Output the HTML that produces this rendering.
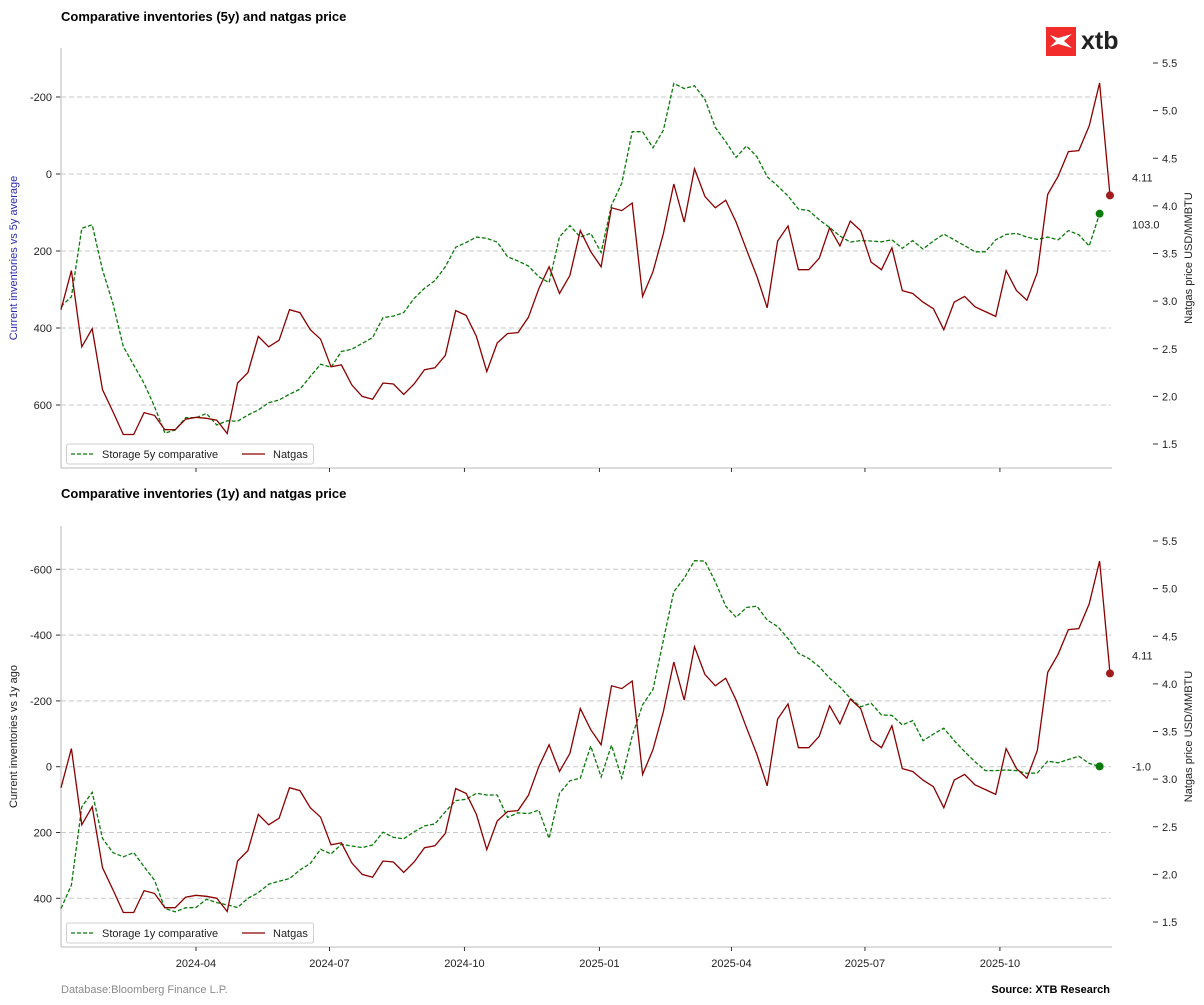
<!DOCTYPE html>
<html><head><meta charset="utf-8">
<style>
html,body{margin:0;padding:0;background:#fff;}
svg{display:block;font-family:"Liberation Sans",Arial,sans-serif;}
</style></head>
<body>
<svg id="chart" width="1204" height="1005" viewBox="0 0 1204 1005" xmlns="http://www.w3.org/2000/svg">
  <rect x="0" y="0" width="1204" height="1005" fill="#fff"/>
  <text x="61" y="21" font-size="13" font-weight="bold" fill="#000">Comparative inventories (5y) and natgas price</text>
  <text x="61" y="498" font-size="13" font-weight="bold" fill="#000">Comparative inventories (1y) and natgas price</text>
  <g>
    <rect x="1046" y="27" width="30" height="29" fill="#f22b2b"/>
    <path d="M1050 35 L1058 38 L1072 34 L1064 41 L1072 48 L1058 44 L1050 47 L1056 41 Z" fill="#fff"/>
    <text x="1081" y="49" font-size="25" font-weight="bold" fill="#222">xtb</text>
  </g>
  <g id="top"></g>
  <g id="bottom"></g>
  <text x="61" y="993" font-size="11" fill="#8a8a8a">Database:Bloomberg Finance L.P.</text>
  <text x="1110" y="993" font-size="11" font-weight="bold" fill="#000" text-anchor="end">Source: XTB Research</text>
</svg>
<script>
const natgas = [2.91,3.32,2.52,2.71,2.07,1.84,1.60,1.60,1.83,1.80,1.65,1.65,1.76,1.78,1.77,1.75,1.61,2.14,2.25,2.63,2.52,2.59,2.91,2.88,2.70,2.60,2.31,2.33,2.12,2.00,1.97,2.14,2.13,2.02,2.13,2.28,2.30,2.43,2.90,2.85,2.63,2.26,2.56,2.66,2.67,2.83,3.13,3.36,3.08,3.27,3.74,3.52,3.36,3.98,3.95,4.03,3.05,3.31,3.71,4.23,3.83,4.39,4.10,3.98,4.06,3.83,3.54,3.26,2.93,3.63,3.79,3.33,3.33,3.45,3.77,3.58,3.84,3.74,3.41,3.33,3.56,3.11,3.08,2.99,2.92,2.70,2.99,3.05,2.94,2.89,2.84,3.32,3.11,3.01,3.30,4.12,4.31,4.57,4.58,4.84,5.29,4.11];
const storage5y = [344,319,141,132,249,336,448,496,544,604,673,665,633,633,622,652,641,642,626,613,594,587,572,559,526,494,502,461,455,440,425,373,369,360,323,297,277,241,190,178,164,167,177,215,226,239,267,282,163,134,164,154,204,81,24,-110,-110,-68,-114,-235,-222,-229,-194,-121,-84,-43,-73,-45,7,31,57,91,95,119,139,161,177,173,174,176,171,193,173,195,174,156,171,186,202,202,171,157,154,164,170,164,171,147,158,187,103];
const storage1y = [431,360,122,78,218,261,274,261,304,345,431,441,429,428,403,413,420,428,400,383,357,348,340,314,294,251,265,236,241,246,238,199,215,219,198,180,174,137,103,99,81,86,86,154,140,143,132,218,81,43,35,-63,31,-65,35,-93,-188,-235,-385,-532,-573,-626,-625,-562,-488,-454,-484,-488,-446,-426,-390,-345,-329,-304,-269,-243,-208,-182,-193,-157,-156,-127,-140,-79,-99,-117,-79,-46,-15,12,12,10,12,20,19,-17,-12,-22,-32,-10,-1];
const xTickLabels = ["2024-04","2024-07","2024-10","2025-01","2025-04","2025-07","2025-10"];
const xTickDays = [91,182,274,366,456,547,639];
const leftTicksTop = [-200,0,200,400,600];
const leftTicksBottom = [-600,-400,-200,0,200,400];
const rightTicks = [1.5,2.0,2.5,3.0,3.5,4.0,4.5,5.0,5.5];

const NS = "http://www.w3.org/2000/svg";
function mk(parent, tag, attrs, text){
  const e = document.createElementNS(NS, tag);
  for (const k in attrs) e.setAttribute(k, attrs[k]);
  if (text !== undefined) e.textContent = text;
  parent.appendChild(e);
  return e;
}
const xIdx = i => 61 + i * 10.386;
const xDay = d => 62.5 + d * 1.467;

function panel(g, cfg){
  const top = cfg.top, bot = cfg.bot;
  const yL = v => cfg.zeroY + v * cfg.pxPer200 / 200;
  const yR = p => cfg.r55 + (5.5 - p) * 95.25;
  cfg.leftTicks.forEach(v => {
    const y = yL(v);
    const gl = mk(g, "line", {x1:61, x2:1111, y1:y, y2:y, stroke:"#c8c8c8", "stroke-width":1, "stroke-dasharray":"5,3"});
    
    
    mk(g, "line", {x1:56, x2:61, y1:y, y2:y, stroke:"#333", "stroke-width":1});
    const t = mk(g, "text", {x:52, y:y+4, "font-size":11, "text-anchor":"end", fill:"#222"}, String(v));
    
    
  });
  rightTicks.forEach(p => {
    const y = yR(p);
    mk(g, "line", {x1:1153, x2:1158, y1:y, y2:y, stroke:"#333", "stroke-width":1});
    const t = mk(g, "text", {x:1162, y:y+4, "font-size":11, fill:"#222"}, p.toFixed(1));
    
    
  });
  mk(g, "line", {x1:61, x2:61, y1:top, y2:bot, stroke:"#d0d0d0", "stroke-width":1.5});
  mk(g, "line", {x1:61, x2:1112, y1:bot, y2:bot, stroke:"#d0d0d0", "stroke-width":1.5});
  xTickDays.forEach((d, k) => {
    const x = xDay(d);
    mk(g, "line", {x1:x, x2:x, y1:bot, y2:bot+4, stroke:"#333", "stroke-width":1});
    if (cfg.xLabels) {
      const t = mk(g, "text", {x:x, y:bot+20, "font-size":11, "text-anchor":"middle", fill:"#222"}, xTickLabels[k]);
      
      
    }
  });
  const sp = cfg.storage.map((v, i) => xIdx(i).toFixed(1) + "," + yL(v).toFixed(1)).join(" ");
  const sl = mk(g, "polyline", {points:sp, fill:"none", stroke:"#0a7a0a", "stroke-width":1.3, "stroke-dasharray":"4,2"});
  
  
  const np = natgas.map((v, i) => xIdx(i).toFixed(1) + "," + yR(v).toFixed(1)).join(" ");
  const nl = mk(g, "polyline", {points:np, fill:"none", stroke:"#8b0000", "stroke-width":1.3});
  
  
  const ls = cfg.storage.length - 1, ln = natgas.length - 1;
  const sm = mk(g, "circle", {cx:xIdx(ls), cy:yL(cfg.storage[ls]), r:4, fill:"#0a7a0a"});
  
  
  const nm = mk(g, "circle", {cx:xIdx(ln), cy:yR(natgas[ln]), r:4, fill:"#a01c1c"});
  
  
  const nlab = mk(g, "text", {x:1132, y:yR(natgas[ln]) - 14, "font-size":11, fill:"#222"}, natgas[ln].toFixed(2));
  
  
  const slab = mk(g, "text", {x:1132, y:yL(cfg.storage[ls]) + cfg.sLabOff, "font-size":11, fill:"#222"}, cfg.storage[ls].toFixed(1));
  
  
  const cy = (top + bot) / 2;
  const lt = mk(g, "text", {x:0, y:0, "font-size":11, fill:cfg.leftColor, "text-anchor":"middle", transform:`translate(17,${cy}) rotate(-90)`}, cfg.leftTitle);
  
  
  const rt = mk(g, "text", {x:0, y:0, "font-size":11, fill:"#222", "text-anchor":"middle", transform:`translate(1192,${cy}) rotate(-90)`}, "Natgas price USD/MMBTU");
  
  
  const lg = mk(g, "g", {});
  
  
  const ly = bot - 24;
  mk(lg, "rect", {x:66.5, y:ly, width:247, height:20, rx:2, fill:"#fff", stroke:"#d0d0d0", "stroke-width":1});
  mk(lg, "line", {x1:71, x2:95, y1:ly+10, y2:ly+10, stroke:"#0a7a0a", "stroke-width":1.3, "stroke-dasharray":"4,2"});
  const le1 = mk(lg, "text", {x:102, y:ly+14, "font-size":11, fill:"#222"}, cfg.legendLabel);
  
  
  mk(lg, "line", {x1:242, x2:265, y1:ly+10, y2:ly+10, stroke:"#8b0000", "stroke-width":1.3});
  const le2 = mk(lg, "text", {x:273, y:ly+14, "font-size":11, fill:"#222"}, "Natgas");
  
  
}

const gTop = document.getElementById("top");


panel(gTop, {top:48, bot:468, zeroY:174, pxPer200:77, r55:63, leftTicks:leftTicksTop,
  storage:storage5y, xLabels:false, leftTitle:"Current inventories vs 5y average", leftColor:"#2b2bb0",
  legendLabel:"Storage 5y comparative", sLabOff:15});
const gBot = document.getElementById("bottom");


panel(gBot, {top:526, bot:947, zeroY:766.7, pxPer200:65.8, r55:541, leftTicks:leftTicksBottom,
  storage:storage1y, xLabels:true, leftTitle:"Current inventories vs 1y ago", leftColor:"#222",
  legendLabel:"Storage 1y comparative", sLabOff:4});
</script>
</body></html>
